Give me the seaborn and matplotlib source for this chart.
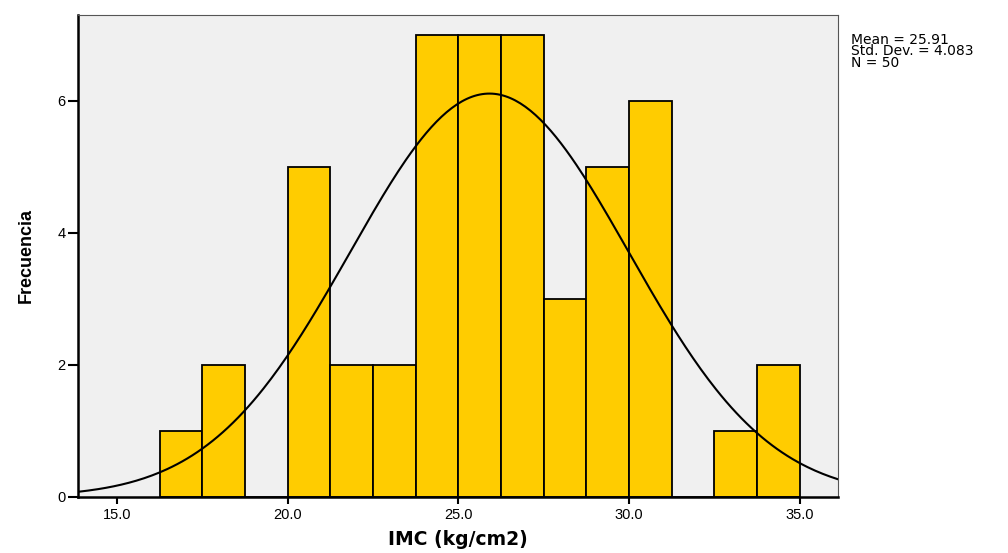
import numpy as np
import pandas as pd
import seaborn as sns
import matplotlib.pyplot as plt

# histogram (bin width 1.25)
bin_edges = [16.25, 17.5, 18.75, 20.0, 21.25, 22.5, 23.75, 25.0, 26.25,
             27.5, 28.75, 30.0, 31.25, 32.5, 33.75, 35.0]
counts = [1, 2, 0, 5, 2, 2, 7, 7, 7, 3, 5, 6, 0, 1, 2]
x_ticks = [15.0, 20.0, 25.0, 30.0, 35.0]
y_ticks = [0, 2, 4, 6]
mean, sd, n = 25.91, 4.083, 50

sns.set_style("white")
plt.rcParams["font.family"] = ["Liberation Sans", "DejaVu Sans"]
plt.rcParams.update({"text.color": "black", "axes.labelcolor": "black",
                     "xtick.color": "black", "ytick.color": "black"})

edges = np.array(bin_edges)
centers = (edges[:-1] + edges[1:]) / 2
df = pd.DataFrame({"IMC": centers, "n": counts})

fig = plt.figure(figsize=(10.08, 5.53), dpi=100)
ax = fig.add_axes([0.0774, 0.1013, 0.754, 0.872])
ax.set_facecolor("#F0F0F0")

sns.histplot(data=df, x="IMC", weights="n", bins=list(bin_edges), ax=ax,
             color="#FFCC00", alpha=1, edgecolor="black", linewidth=1.3)

# normal curve scaled to counts
width = edges[1] - edges[0]
xs = np.linspace(13.86, 36.12, 300)
ys = n * width * np.exp(-0.5 * ((xs - mean) / sd) ** 2) / (sd * np.sqrt(2 * np.pi))
sns.lineplot(x=xs, y=ys, ax=ax, color="black", linewidth=1.5)

ax.set_xlim(13.86, 36.12)
ax.set_ylim(0, 7.3)
ax.set_xticks(x_ticks)
ax.set_xticklabels([f"{v:.1f}" for v in x_ticks], fontsize=10.5)
ax.set_yticks(y_ticks)
ax.set_yticklabels([str(v) for v in y_ticks], fontsize=10.5)
ax.tick_params(axis="x", bottom=True, direction="out", length=5, width=1.5,
               color="black", labelcolor="black", pad=3)
ax.tick_params(axis="y", left=True, direction="out", length=7, width=1.5,
               color="black", labelcolor="black", pad=2)

for side in ["left", "bottom"]:
    ax.spines[side].set_color("black")
    ax.spines[side].set_linewidth(1.8)
for side in ["top", "right"]:
    ax.spines[side].set_color("#555555")
    ax.spines[side].set_linewidth(0.8)

ax.set_xlabel("IMC (kg/cm2)", fontsize=13.5, fontweight="bold", labelpad=6,
              family=["DejaVu Sans"], color="black")
ax.set_ylabel("Frecuencia", fontsize=13, fontweight="bold", labelpad=16,
              color="black")

fig.text(0.844, 0.941, "Mean = 25.91\nStd. Dev. = 4.083\nN = 50",
         fontsize=10, va="top", ha="left", linespacing=0.78,
         family=["DejaVu Sans"], color="black")

fig.savefig("out.png", dpi=100)
